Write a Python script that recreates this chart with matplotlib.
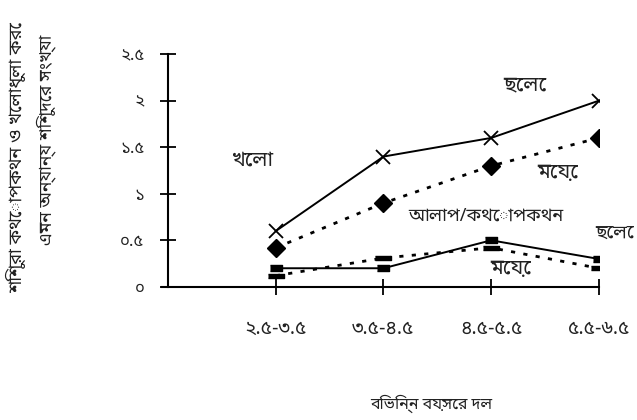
import matplotlib.pyplot as plt

# data
groups = ["২.৫-৩.৫", "৩.৫-৪.৫", "৪.৫-৫.৫", "৫.৫-৬.৫"]
play_boys = [0.6, 1.4, 1.6, 2.0]
play_girls = [0.42, 0.9, 1.3, 1.6]
talk_boys = [0.2, 0.2, 0.5, 0.3]
talk_girls = [0.12, 0.31, 0.42, 0.2]
yticks = [0, 0.5, 1, 1.5, 2, 2.5]
ytick_labels = ["০", "০.৫", "১", "১.৫", "২", "২.৫"]

fonts = ['Noto Sans Bengali', 'Noto Serif Bengali', 'Lohit Bengali', 'FreeSerif', 'DejaVu Sans']
plt.rcParams['font.family'] = fonts

fig = plt.figure(figsize=(6.37, 4.2), dpi=100)
ax = fig.add_axes([0.264, 0.317, 0.676, 0.554])

x = list(range(1, len(groups) + 1))
dot = (0, (1.5, 3))
small_rect = [(-1, -0.55), (1, -0.55), (1, 0.55), (-1, 0.55)]
wide_rect = [(-1.4, -0.45), (1.4, -0.45), (1.4, 0.45), (-1.4, 0.45)]

ax.plot(x, play_boys, color='black', lw=1.4, marker='x', ms=10, mew=1.3)
ax.plot(x, play_girls, color='black', lw=2, ls=dot, marker='D', ms=9)
ax.plot(x, talk_boys, color='black', lw=1.4, marker=small_rect, ms=9)
ax.plot(x, talk_girls, color='black', lw=2, ls=dot, marker=wide_rect, ms=11)

ax.set_xlim(0, 4)
ax.set_ylim(0, 2.5)
for s in ['top', 'right']:
    ax.spines[s].set_visible(False)
ax.spines['left'].set_linewidth(1.5)
ax.spines['bottom'].set_linewidth(1.5)
ax.spines['bottom'].set_bounds(-0.06, 4)

ax.set_xticks(x)
ax.set_xticklabels(groups, fontsize=14, color='#222222')
ax.set_yticks(yticks)
ax.set_yticklabels(ytick_labels, fontsize=12, color='#222222')
ax.tick_params(axis='both', direction='inout', length=12, width=1.3)
ax.tick_params(axis='x', pad=17)
ax.tick_params(axis='y', pad=11)

txt = dict(va='center', color='#222222')
ax.text(0.59, 1.36, "খেলা", fontsize=15, **txt)
ax.text(3.11, 2.17, "ছেলে", fontsize=15, **txt)
ax.text(3.43, 1.23, "মেয়ে", fontsize=15, **txt)
ax.text(2.23, 0.77, "আলাপ/কথোপকথন", fontsize=13, **txt)
ax.text(3.97, 0.58, "ছেলে", fontsize=13.5, **txt)
ax.text(2.99, 0.2, "মেয়ে", fontsize=15, **txt)

fig.text(0.677, 0.038, "বিভিন্ন বয়সের দল", fontsize=11.5, ha='center', **txt)
fig.text(0.025, 0.626, "শিশুরা কথোপকথন ও খেলাধুলা করে", fontsize=13,
         rotation=90, ha='center', **txt)
fig.text(0.072, 0.667, "এমন অন্যান্য শিশুদের সংখ্যা", fontsize=12.5,
         rotation=90, ha='center', **txt)

fig.savefig("out.png", dpi=100)
